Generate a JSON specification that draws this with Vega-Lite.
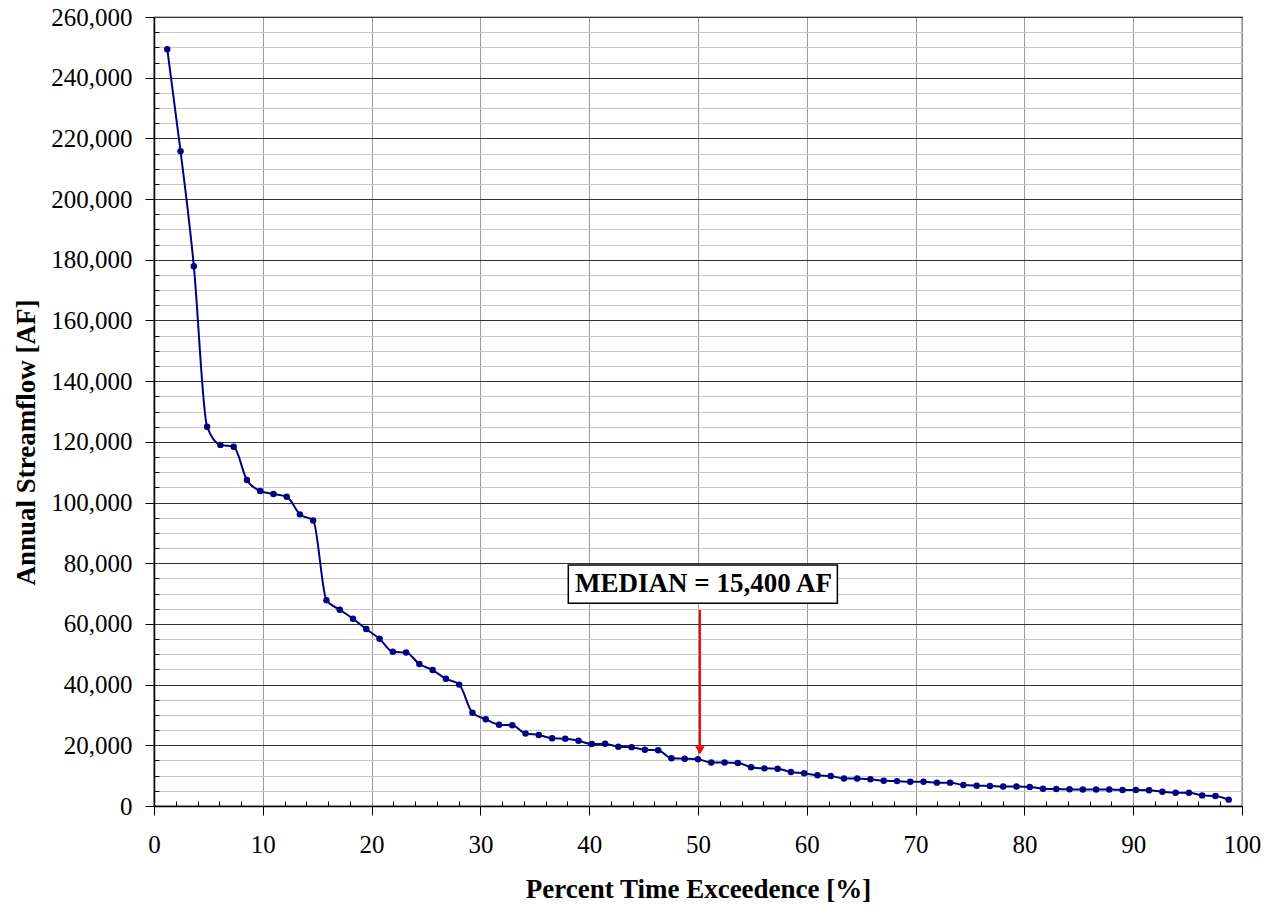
{
  "$schema": "https://vega.github.io/schema/vega-lite/v6.json",
  "width": 1088,
  "height": 789,
  "autosize": {"type": "none"},
  "padding": {"left": 154, "top": 17, "right": 30, "bottom": 101},
  "background": "white",
  "config": {
    "view": {"stroke": "black", "strokeWidth": 1.2},
    "font": "Liberation Serif",
    "axis": {
      "labelFont": "Liberation Serif",
      "labelFontSize": 25,
      "labelColor": "black",
      "titleFont": "Liberation Serif",
      "titleFontSize": 27,
      "titleFontWeight": "bold",
      "titleColor": "black",
      "domainColor": "black",
      "domainWidth": 1.5,
      "tickColor": "black",
      "tickWidth": 1,
      "gridWidth": 1,
      "labelOverlap": false,
      "labelFlush": false,
      "labelBound": false
    }
  },
  "datasets": {
    "curve": [
      {"pct": 1.22, "flow": 249400}, {"pct": 2.44, "flow": 215800}, {"pct": 3.66, "flow": 177900},
      {"pct": 4.88, "flow": 125000}, {"pct": 6.10, "flow": 119000}, {"pct": 7.32, "flow": 118400},
      {"pct": 8.54, "flow": 107400}, {"pct": 9.76, "flow": 103800}, {"pct": 10.98, "flow": 102800},
      {"pct": 12.20, "flow": 101900}, {"pct": 13.41, "flow": 96100}, {"pct": 14.63, "flow": 94100},
      {"pct": 15.85, "flow": 67800}, {"pct": 17.07, "flow": 64700}, {"pct": 18.29, "flow": 61700},
      {"pct": 19.51, "flow": 58300}, {"pct": 20.73, "flow": 55100}, {"pct": 21.95, "flow": 50800},
      {"pct": 23.17, "flow": 50600}, {"pct": 24.39, "flow": 46800}, {"pct": 25.61, "flow": 44800},
      {"pct": 26.83, "flow": 41900}, {"pct": 28.05, "flow": 40000}, {"pct": 29.27, "flow": 30700},
      {"pct": 30.49, "flow": 28600}, {"pct": 31.71, "flow": 26800}, {"pct": 32.93, "flow": 26600},
      {"pct": 34.15, "flow": 23900}, {"pct": 35.37, "flow": 23400}, {"pct": 36.59, "flow": 22300},
      {"pct": 37.80, "flow": 22200}, {"pct": 39.02, "flow": 21500}, {"pct": 40.24, "flow": 20400},
      {"pct": 41.46, "flow": 20500}, {"pct": 42.68, "flow": 19500}, {"pct": 43.90, "flow": 19400},
      {"pct": 45.12, "flow": 18500}, {"pct": 46.34, "flow": 18400}, {"pct": 47.56, "flow": 15700},
      {"pct": 48.78, "flow": 15600}, {"pct": 50.00, "flow": 15400}, {"pct": 51.22, "flow": 14300},
      {"pct": 52.44, "flow": 14300}, {"pct": 53.66, "flow": 14200}, {"pct": 54.88, "flow": 12800},
      {"pct": 56.10, "flow": 12400}, {"pct": 57.32, "flow": 12300}, {"pct": 58.54, "flow": 11200},
      {"pct": 59.76, "flow": 10800}, {"pct": 60.98, "flow": 10100}, {"pct": 62.20, "flow": 9900},
      {"pct": 63.41, "flow": 9100}, {"pct": 64.63, "flow": 9100}, {"pct": 65.85, "flow": 8800},
      {"pct": 67.07, "flow": 8300}, {"pct": 68.29, "flow": 8200}, {"pct": 69.51, "flow": 8000},
      {"pct": 70.73, "flow": 8000}, {"pct": 71.95, "flow": 7700}, {"pct": 73.17, "flow": 7700},
      {"pct": 74.39, "flow": 6900}, {"pct": 75.61, "flow": 6700}, {"pct": 76.83, "flow": 6600},
      {"pct": 78.05, "flow": 6400}, {"pct": 79.27, "flow": 6400}, {"pct": 80.49, "flow": 6300},
      {"pct": 81.71, "flow": 5700}, {"pct": 82.93, "flow": 5600}, {"pct": 84.15, "flow": 5500},
      {"pct": 85.37, "flow": 5400}, {"pct": 86.59, "flow": 5400}, {"pct": 87.80, "flow": 5400},
      {"pct": 89.02, "flow": 5300}, {"pct": 90.24, "flow": 5300}, {"pct": 91.46, "flow": 5200},
      {"pct": 92.68, "flow": 4700}, {"pct": 93.90, "flow": 4400}, {"pct": 95.12, "flow": 4400},
      {"pct": 96.34, "flow": 3500}, {"pct": 97.56, "flow": 3300}, {"pct": 98.78, "flow": 2100}
    ],
    "box": [{"pct": 38.08, "pct2": 62.81, "flow": 66790, "flow2": 79410, "label": "MEDIAN = 15,400 AF", "tx": 50.5, "ty": 70400}],
    "arrow": [{"pct": 50.18, "flow": 64600, "flow2": 19600, "head": 18300}]
  },
  "layer": [
    {
      "data": {"name": "curve"},
      "mark": {"type": "line", "interpolate": "monotone", "color": "#000080", "strokeWidth": 2},
      "encoding": {
        "x": {
          "field": "pct", "type": "quantitative",
          "scale": {"domain": [0, 100], "nice": false, "zero": false},
          "axis": {
            "title": "Percent Time Exceedence [%]",
            "tickCount": 500,
            "values": [0,2,4,6,8,10,12,14,16,18,20,22,24,26,28,30,32,34,36,38,40,42,44,46,48,50,52,54,56,58,60,62,64,66,68,70,72,74,76,78,80,82,84,86,88,90,92,94,96,98,100],
            "labelExpr": "datum.value % 10 === 0 ? format(datum.value, 'd') : ''",
            "gridColor": "#999999",
            "gridOpacity": {"condition": {"test": "datum.value % 10 === 0", "value": 1}, "value": 0},
            "tickSize": {"condition": {"test": "datum.value % 10 === 0", "value": 9}, "value": -5},
            "labelPadding": 17,
            "titlePadding": 19
          }
        },
        "y": {
          "field": "flow", "type": "quantitative",
          "scale": {"domain": [0, 260000], "nice": false},
          "axis": {
            "title": "Annual Streamflow [AF]",
            "tickCount": 500,
            "values": [0,5000,10000,15000,20000,25000,30000,35000,40000,45000,50000,55000,60000,65000,70000,75000,80000,85000,90000,95000,100000,105000,110000,115000,120000,125000,130000,135000,140000,145000,150000,155000,160000,165000,170000,175000,180000,185000,190000,195000,200000,205000,210000,215000,220000,225000,230000,235000,240000,245000,250000,255000,260000],
            "labelExpr": "datum.value % 20000 === 0 ? format(datum.value, ',') : ''",
            "gridColor": {"condition": {"test": "datum.value % 20000 === 0", "value": "#333333"}, "value": "#c8c8c8"},
            "tickSize": {"condition": {"test": "datum.value % 20000 === 0", "value": 9}, "value": -5},
            "labelPadding": 13,
            "titlePadding": 10,
            "titleY": 425
          }
        }
      }
    },
    {
      "data": {"name": "curve"},
      "mark": {"type": "point", "shape": "circle", "filled": true, "color": "#000080", "size": 42, "opacity": 1},
      "encoding": {
        "x": {"field": "pct", "type": "quantitative"},
        "y": {"field": "flow", "type": "quantitative"}
      }
    },
    {
      "data": {"name": "box"},
      "mark": {"type": "rect", "fill": "white", "stroke": "black", "strokeWidth": 1.5},
      "encoding": {
        "x": {"field": "pct", "type": "quantitative"},
        "x2": {"field": "pct2"},
        "y": {"field": "flow", "type": "quantitative"},
        "y2": {"field": "flow2"}
      }
    },
    {
      "data": {"name": "box"},
      "mark": {"type": "text", "font": "Liberation Serif", "fontSize": 27, "fontWeight": "bold", "align": "center", "baseline": "alphabetic", "color": "black"},
      "encoding": {
        "x": {"field": "tx", "type": "quantitative"},
        "y": {"field": "ty", "type": "quantitative"},
        "text": {"field": "label"}
      }
    },
    {
      "data": {"name": "arrow"},
      "mark": {"type": "rule", "color": "#ff0000", "strokeWidth": 2},
      "encoding": {
        "x": {"field": "pct", "type": "quantitative"},
        "y": {"field": "flow", "type": "quantitative"},
        "y2": {"field": "flow2"}
      }
    },
    {
      "data": {"name": "arrow"},
      "mark": {"type": "point", "shape": "triangle-down", "filled": true, "color": "#ff0000", "size": 90, "opacity": 1},
      "encoding": {
        "x": {"field": "pct", "type": "quantitative"},
        "y": {"field": "head", "type": "quantitative"}
      }
    }
  ]
}
